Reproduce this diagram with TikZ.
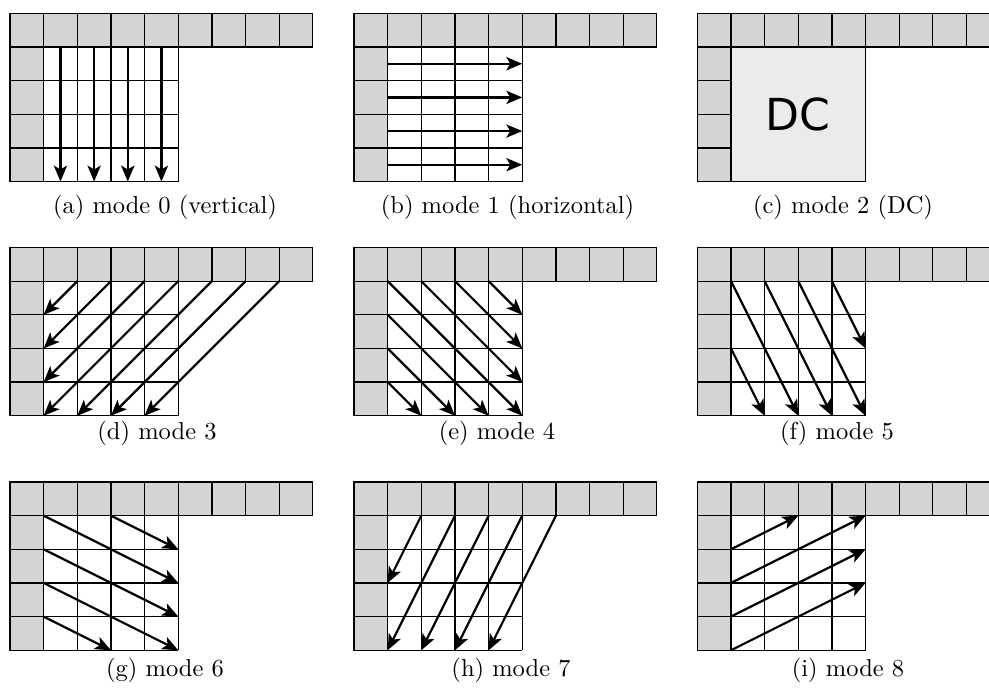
\documentclass[tikz,border=0pt]{standalone}
\usepackage{fontspec}
\newfontfamily\dcfont{DejaVu Sans}
\usetikzlibrary{arrows.meta}
\tikzset{
  graycell/.style={draw=black, fill=black!17, line width=0.5pt},
  gridline/.style={draw=black, line width=0.5pt},
  dcbox/.style={draw=black, fill=black!8, line width=0.5pt},
  arr/.style={line width=0.9pt, -{Stealth[length=6.5pt,width=5.4pt,inset=1.6pt]}},
  captext/.style={anchor=base, inner sep=0pt, font=\fontsize{10}{12}\selectfont},
  cellunit/.style={x=13.736pt, y=-13.736pt}
}
\newcommand{\basegrid}{%
  \fill[white] (1,1) rectangle (5,5);
  \foreach \i in {1,...,5} {\draw[gridline] (\i,1) -- (\i,5); \draw[gridline] (1,\i) -- (5,\i);}
  \foreach \i in {0,...,8} {\draw[graycell] (\i,0) rectangle ++(1,1);}
  \foreach \j in {1,...,4} {\draw[graycell] (0,\j) rectangle ++(1,1);}
}
\begin{document}
\begin{tikzpicture}[x=0.4082pt,y=-0.4082pt]
\useasboundingbox (0,0) rectangle (989,688);
% (a) mode 0
\begin{scope}[shift={(10,13.3)},cellunit]
  \basegrid
  \foreach \i in {1.5,2.5,3.5,4.5} {\draw[arr] (\i,1) -- (\i,5);}
\end{scope}
\node[captext] (capa) at (165,213.3) {(a) mode 0 (vertical)};
% (b) mode 1
\begin{scope}[shift={(354,13.3)},cellunit]
  \basegrid
  \foreach \j in {1.5,2.5,3.5,4.5} {\draw[arr] (1,\j) -- (5,\j);}
\end{scope}
\node[captext] (capb) at (507.5,213.3) {(b) mode 1 (horizontal)};
% (c) mode 2
\begin{scope}[shift={(697.3,13.3)},cellunit]
  \basegrid
  \draw[dcbox] (1,1) rectangle (5,5);
  \node[font=\dcfont\fontsize{18}{18}\selectfont] (dc) at (3,3) {DC};
\end{scope}
\node[captext] (capc) at (843,213.3) {(c) mode 2 (DC)};
% (d) mode 3
\begin{scope}[shift={(10,247.5)},cellunit]
  \basegrid
  \draw[arr] (2,1) -- (1,2);
  \draw[arr] (3,1) -- (1,3);
  \draw[arr] (4,1) -- (1,4);
  \draw[arr] (5,1) -- (1,5);
  \draw[arr] (6,1) -- (2,5);
  \draw[arr] (7,1) -- (3,5);
  \draw[arr] (8,1) -- (4,5);
\end{scope}
\node[captext] (capd) at (157,439.3) {(d) mode 3};
% (e) mode 4
\begin{scope}[shift={(354,247.5)},cellunit]
  \basegrid
  \draw[arr] (4,1) -- (5,2);
  \draw[arr] (3,1) -- (5,3);
  \draw[arr] (2,1) -- (5,4);
  \draw[arr] (1,1) -- (5,5);
  \draw[arr] (1,2) -- (4,5);
  \draw[arr] (1,3) -- (3,5);
  \draw[arr] (1,4) -- (2,5);
\end{scope}
\node[captext] (cape) at (497,439.3) {(e) mode 4};
% (f) mode 5
\begin{scope}[shift={(697.3,247.5)},cellunit]
  \basegrid
  \draw[arr] (4,1) -- (5,3);
  \draw[arr] (3,1) -- (5,5);
  \draw[arr] (2,1) -- (4,5);
  \draw[arr] (1,1) -- (3,5);
  \draw[arr] (1,3) -- (2,5);
\end{scope}
\node[captext] (capf) at (837,439.3) {(f) mode 5};
% (g) mode 6
\begin{scope}[shift={(10,482)},cellunit]
  \basegrid
  \draw[arr] (3,1) -- (5,2);
  \draw[arr] (1,1) -- (5,3);
  \draw[arr] (1,2) -- (5,4);
  \draw[arr] (1,3) -- (5,5);
  \draw[arr] (1,4) -- (3,5);
\end{scope}
\node[captext] (capg) at (165,676) {(g) mode 6};
% (h) mode 7
\begin{scope}[shift={(354,482)},cellunit]
  \basegrid
  \draw[arr] (2,1) -- (1,3);
  \draw[arr] (3,1) -- (1,5);
  \draw[arr] (4,1) -- (2,5);
  \draw[arr] (5,1) -- (3,5);
  \draw[arr] (6,1) -- (4,5);
\end{scope}
\node[captext] (caph) at (511,676) {(h) mode 7};
% (i) mode 8
\begin{scope}[shift={(697.3,482)},cellunit]
  \basegrid
  \draw[arr] (1,2) -- (3,1);
  \draw[arr] (1,3) -- (5,1);
  \draw[arr] (1,4) -- (5,2);
  \draw[arr] (1,5) -- (5,3);
\end{scope}
\node[captext] (capi) at (848,676) {(i) mode 8};
\end{tikzpicture}
\end{document}
